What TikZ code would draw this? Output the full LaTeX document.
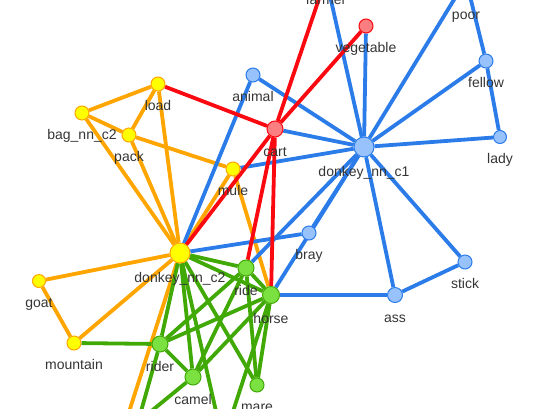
\documentclass[tikz,border=0pt]{standalone}
\usepackage{fontspec}
\setmainfont{Liberation Sans}
\usetikzlibrary{backgrounds}
\definecolor{eblue}{HTML}{2B7CE9}
\definecolor{nblue}{HTML}{97C2FC}
\definecolor{eorange}{HTML}{FFA500}
\definecolor{nyellow}{HTML}{FFFF00}
\definecolor{ered}{HTML}{FA0A10}
\definecolor{nred}{HTML}{FB7E81}
\definecolor{egreen}{HTML}{41A906}
\definecolor{ngreen}{HTML}{7BE141}
\definecolor{txt}{HTML}{343434}
\begin{document}
\begin{tikzpicture}[x=1pt, y=-1pt,
  every label/.style={font=\fontsize{14pt}{16pt}\selectfont, text=txt,
    inner sep=0pt, text height=10pt, text depth=3pt},
  label distance=9pt,
  word/.style={circle, inner sep=0pt, line width=1pt, minimum size=#1},
  yelnode/.style={word=#1, draw=eorange, fill=nyellow},
  rednode/.style={word=#1, draw=ered, fill=nred},
  bluenode/.style={word=#1, draw=eblue, fill=nblue},
  grnnode/.style={word=#1, draw=egreen, fill=ngreen},
  link/.style={line width=3.8pt}]
\useasboundingbox (0,0) rectangle (559,408);
% the yellow sense
\node[yelnode=14, label=below:load] (load) at (158,84) {};
\node[yelnode=14, label=below:bag\_nn\_c2] (bag) at (82,113) {};
\node[yelnode=14, label=below:pack] (pack) at (129,135) {};
\node[yelnode=14, label=below:mule] (mule) at (233,169) {};
\node[yelnode=20, label=below:donkey\_nn\_c2] (dc2) at (180,253) {};
\node[yelnode=13, label=below:goat] (goat) at (39,281) {};
\node[yelnode=14, label=below:mountain] (mountain) at (74,343) {};
\node[yelnode=14] (lowyel) at (120,440) {};
% the red sense
\node[rednode=16, label=below:cart] (cart) at (275,129) {};
\node[rednode=14, label=below:vegetable] (vegetable) at (366,26) {};
% the blue sense
\node[bluenode=14, label=below:farmer] (farmer) at (326,-22) {};
\node[bluenode=14, label=below:animal] (animal) at (253,75) {};
\node[bluenode=20, label=below:donkey\_nn\_c1] (dc1) at (364,147) {};
\node[bluenode=14, label={[yshift=-13pt]below:poor}] (poor) at (466,-20) {};
\node[bluenode=14, label=below:fellow] (fellow) at (486,61) {};
\node[bluenode=13, label=below:lady] (lady) at (500,137) {};
\node[bluenode=14, label=below:bray] (bray) at (309,233) {};
\node[bluenode=14, label=below:stick] (stick) at (465,262) {};
\node[bluenode=15, label=below:ass] (ass) at (395,295) {};
% the green sense
\node[grnnode=16, label=below:ride] (ride) at (246,268) {};
\node[grnnode=17, label=below:horse] (horse) at (271,295) {};
\node[grnnode=16, label=below:rider] (rider) at (160,344) {};
\node[grnnode=16, label=below:camel] (camel) at (193,377) {};
\node[grnnode=14, label=below:mare] (mare) at (257,385) {};
\node[grnnode=14] (lowgrn) at (223,442) {};
\node[grnnode=14] (lowleft) at (138,422) {};
\begin{pgfonlayer}{background}
\foreach \a/\b in {load/bag, load/pack, load/dc2, bag/pack, bag/dc2, pack/dc2,
    pack/mule, mule/dc2, mule/horse, dc2/goat, dc2/mountain, goat/mountain, dc2/lowyel}
  \draw[link, eorange] (\a) -- (\b);
\foreach \a/\b in {animal/dc1, animal/dc2, cart/dc1, mule/dc1, farmer/dc1,
    vegetable/dc1, poor/dc1, fellow/dc1, lady/dc1, poor/fellow, fellow/lady,
    stick/dc1, ass/dc1, bray/dc1, horse/dc1, ride/dc1, dc2/bray, horse/ass, ass/stick}
  \draw[link, eblue] (\a) -- (\b);
\foreach \a/\b in {dc2/ride, dc2/horse, dc2/rider, dc2/camel, dc2/mare, dc2/lowgrn,
    ride/horse, ride/rider, ride/camel, ride/mare, horse/rider, horse/camel,
    horse/mare, horse/lowgrn, rider/camel, rider/mountain, rider/lowleft, camel/lowleft}
  \draw[link, egreen] (\a) -- (\b);
\foreach \a/\b in {load/cart, cart/farmer, cart/vegetable, cart/dc2, cart/ride, cart/horse}
  \draw[link, ered] (\a) -- (\b);
\end{pgfonlayer}
\end{tikzpicture}
\end{document}
